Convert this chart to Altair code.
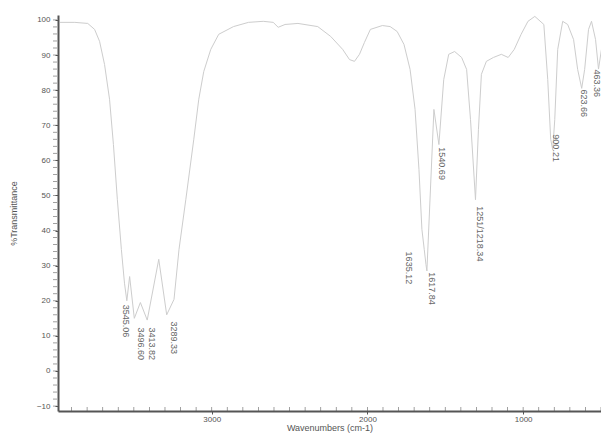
import altair as alt
import pandas as pd

# Spectrum trace (wavenumber cm-1, %T)
wavenumber = [3974, 3879, 3796, 3752, 3720, 3688, 3656, 3631, 3606, 3580, 3560, 3545,
              3527, 3497, 3458, 3414, 3340, 3289, 3242, 3210, 3166, 3115, 3083, 3051,
              3006, 2955, 2860, 2764, 2669, 2605, 2573, 2529, 2446, 2319, 2236, 2159,
              2115, 2083, 2051, 2019, 1981, 1904, 1854, 1809, 1765, 1726, 1694, 1669,
              1650, 1635, 1624, 1618, 1573, 1541, 1510, 1478, 1440, 1395, 1363, 1338,
              1306, 1287, 1268, 1236, 1191, 1140, 1096, 1057, 1013, 969, 925, 867,
              842, 823, 810, 797, 778, 746, 714, 676, 650, 624, 605, 580, 561, 535,
              516, 497, 484]
transmittance = [99.3, 99.3, 99.0, 97.3, 93.9, 87.3, 77.4, 64.5, 48.9, 34.6, 25.0, 20.0,
                 26.9, 15.0, 19.5, 14.5, 31.8, 16.0, 20.4, 34.6, 48.9, 66.0, 77.4, 85.3,
                 91.6, 95.9, 98.1, 99.3, 99.6, 99.3, 97.9, 98.7, 99.0, 98.1, 95.3, 91.6,
                 88.7, 88.2, 90.2, 93.6, 97.3, 98.4, 98.1, 96.7, 93.0, 85.9, 74.5, 57.4,
                 40.3, 34.6, 30.3, 28.5, 74.5, 64.5, 83.0, 90.2, 91.0, 89.3, 85.9, 71.6,
                 48.8, 68.8, 84.5, 88.2, 89.3, 90.2, 89.3, 91.6, 95.9, 99.6, 101.0, 98.7,
                 83.0, 66.0, 63.0, 71.6, 91.6, 99.6, 98.7, 94.4, 85.9, 80.5, 85.9, 97.3,
                 99.6, 94.4, 86.0, 91.6, 97.3]

# Peak labels and where they sit
peak_labels = ["3545.06", "3496.60", "3413.82", "3289.33", "1635.12", "1617.84",
               "1540.69", "1251/1218.34", "900.21", "623.66", "463.36"]
label_wn = [3548, 3452, 3382, 3242, 1733, 1586, 1522, 1274, 790, 612, 523]
label_t = [18.9, 12.4, 12.4, 14.1, 34.0, 28.1, 63.7, 46.9, 67.4, 80.2, 85.9]

x_label_values = [1000, 2000, 3000]
y_label_values = list(range(-10, 101, 10))
x_minor = list(range(500, 4000, 100))
y_minor = list(range(-10, 101, 2))

spec = pd.DataFrame({"wn": wavenumber, "t": transmittance})
labels = pd.DataFrame({"label": peak_labels, "wn": label_wn, "t": label_t})
xminor = pd.DataFrame({"wn": x_minor})
yminor = pd.DataFrame({"t": y_minor})

FONT = "Liberation Sans"
AX = "#555555"

xscale = alt.Scale(domain=[500, 3987], reverse=True, nice=False, zero=False)
yscale = alt.Scale(domain=[-11.4, 101.4], nice=False, zero=False)

line = alt.Chart(spec).mark_line(color="#cdcdcd", strokeWidth=1).encode(
    x=alt.X("wn:Q", scale=xscale,
            axis=alt.Axis(values=x_label_values, tickCount=200, format="d",
                          title="Wavenumbers (cm-1)", grid=False, tickSize=3,
                          labelPadding=1, titlePadding=0, labelOverlap=False,
                          labelFlush=False)),
    y=alt.Y("t:Q", scale=yscale,
            axis=alt.Axis(values=y_label_values, tickCount=200, format="d",
                          title="%Transmittance", grid=False, tickSize=3,
                          labelPadding=5, titlePadding=18, labelOverlap=False)),
)

xticks = alt.Chart(xminor).mark_tick(color=AX, size=4, thickness=0.8, orient="vertical").encode(
    x=alt.X("wn:Q", scale=xscale),
    y=alt.value(394),
)
yticks = alt.Chart(yminor).mark_tick(color=AX, size=4, thickness=0.8, orient="horizontal").encode(
    y=alt.Y("t:Q", scale=yscale),
    x=alt.value(-3),
)

text = alt.Chart(labels).mark_text(angle=90, align="left", baseline="middle",
                                     fontSize=9, color="#666666", font=FONT).encode(
    x=alt.X("wn:Q", scale=xscale),
    y=alt.Y("t:Q", scale=yscale),
    text="label:N",
)

chart = (line + xticks + yticks + text).properties(
    width=543, height=396,
    autosize=alt.AutoSizeParams(type="none"),
    padding={"left": 50, "top": 7, "right": 0, "bottom": 23},
).configure_view(stroke=None).configure_axis(
    domainColor=AX, domainWidth=2, tickColor=AX, labelColor=AX, titleColor=AX,
    labelFont=FONT, titleFont=FONT, labelFontSize=8, titleFontSize=9,
    titleFontWeight="normal", labelOverlap=False,
)

chart.save("out.html", embed_options={"renderer": "svg", "actions": False})
